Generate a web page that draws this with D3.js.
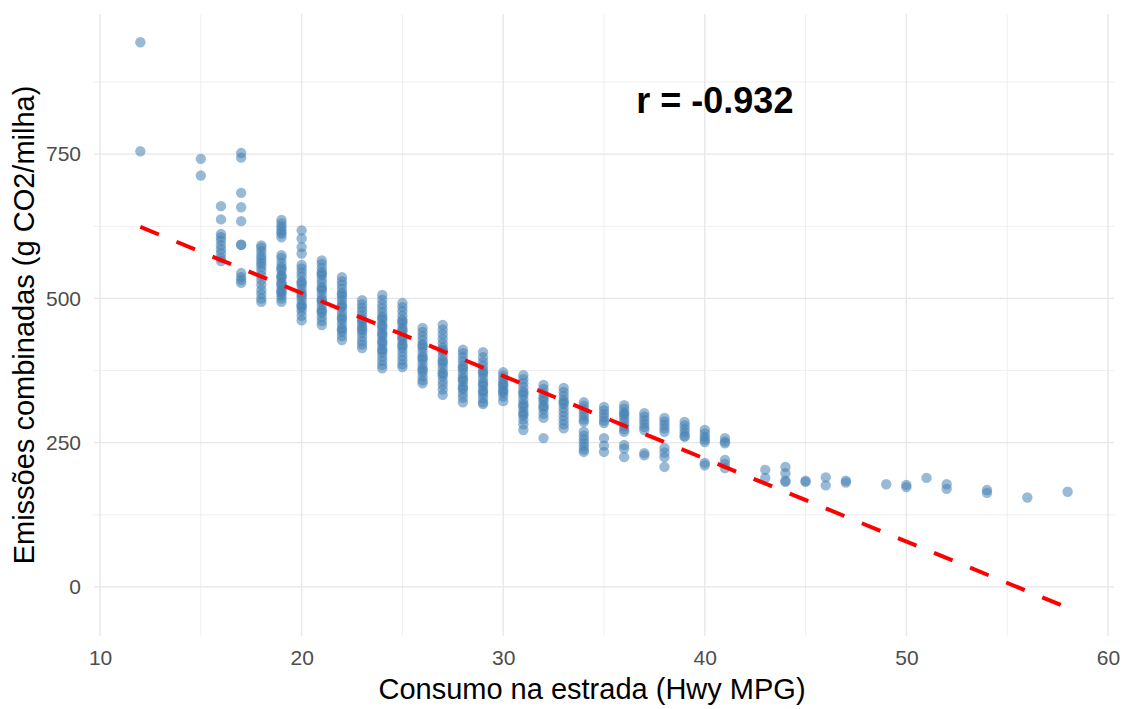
<!DOCTYPE html>
<html>
<head>
<meta charset="utf-8">
<script src="https://cdn.jsdelivr.net/npm/d3@7"></script>
<style>
  html, body { margin: 0; padding: 0; background: #ffffff; }
  svg { display: block; font-family: "Liberation Sans", Arial, sans-serif; }
</style>
</head>
<body>
<svg id="chart" width="1123" height="709"></svg>
<script>
// Highway fuel economy (MPG) levels present in the data
const hwyMpg = [12, 15, 16, 17, 18, 19, 20, 21, 22, 23, 24, 25, 26, 27, 28, 29, 30,
  31, 32, 33, 34, 35, 36, 37, 38, 39, 40, 41, 43, 44, 45, 46, 47, 49, 50, 51, 52, 54, 56, 58];

// Combined CO2 emissions (g/mile) observed at each MPG level
const emissionsByMpg = [
  [944, 755],
  [742, 713],
  [660, 637, 612, 606, 600, 592, 585, 578, 570, 565],
  [752, 744, 683, 658, 634, 593, 593, 544, 537, 532, 527],
  [592, 588, 582, 575, 570, 565, 560, 555, 548, 540, 532, 524, 515, 508, 500, 494],
  [636, 630, 625, 620, 615, 612, 606, 575, 570, 562, 555, 548, 540, 535, 528, 522, 515, 510, 505, 500, 494,
   552, 538, 525, 512],
  [618, 604, 589, 578, 558, 552, 545, 538, 530, 523, 516, 510, 503, 497, 490, 484, 478, 470, 462,
   527, 506, 487],
  [566, 560, 553, 546, 540, 533, 527, 520, 514, 507, 500, 494, 488, 481, 475, 468, 461, 454,
   543, 517, 497, 478],
  [537, 530, 524, 517, 510, 503, 497, 490, 484, 477, 470, 463, 456, 449, 442, 435, 428,
   507, 487, 466, 446],
  [497, 490, 484, 478, 471, 465, 458, 452, 445, 440, 433, 426, 420, 414, 462, 448],
  [506, 498, 490, 483, 476, 469, 462, 455, 448, 441, 434, 427, 420, 413, 406, 399, 392, 385, 379,
   466, 452, 438, 424, 410],
  [492, 485, 478, 470, 463, 456, 449, 442, 435, 428, 421, 414, 407, 400, 393, 386, 381,
   460, 445, 432, 418],
  [449, 442, 435, 428, 421, 414, 407, 400, 393, 386, 379, 372, 365, 358, 353, 418, 397, 376],
  [454, 446, 438, 430, 422, 415, 408, 400, 393, 386, 379, 372, 365, 357, 350, 342, 333,
   411, 390, 369],
  [411, 405, 398, 391, 384, 377, 370, 363, 356, 349, 342, 335, 328, 320, 380, 360, 345],
  [407, 398, 390, 383, 376, 369, 362, 355, 348, 341, 334, 327, 320, 317, 372, 352, 338],
  [372, 366, 360, 354, 348, 342, 336, 330, 322, 351, 339],
  [367, 360, 353, 346, 339, 332, 325, 318, 311, 304, 297, 290, 282, 272, 336, 315, 300],
  [350, 343, 336, 329, 322, 315, 308, 300, 293, 258, 326, 312],
  [345, 338, 331, 324, 317, 310, 303, 296, 289, 282, 275, 320],
  [320, 314, 308, 302, 296, 290, 286, 269, 262, 256, 250, 244, 238, 234],
  [312, 306, 300, 294, 288, 284, 258, 245, 234],
  [315, 309, 303, 297, 291, 285, 279, 273, 269, 246, 240, 225, 300],
  [301, 295, 289, 283, 277, 272, 232, 228],
  [293, 287, 281, 275, 269, 241, 233, 225, 208],
  [286, 280, 274, 268, 262, 260],
  [272, 266, 260, 255, 251, 215, 211],
  [258, 252, 249, 220, 213, 206],
  [203, 189],
  [208, 197, 184, 182],
  [184, 182],
  [190, 176],
  [184, 181],
  [178],
  [177, 173],
  [189],
  [178, 170],
  [168, 163],
  [155],
  [165]
];

// Least-squares fit line, evaluated at the ends of the MPG range
const fitMpg = [12, 58];
const fitEmissions = [624, -36];

// Correlation label and its anchor in data units
const corrLabel = "r = -0.932";
const corrAnchor = [40.5, 843];

// Axis ticks
const xTicks = [10, 20, 30, 40, 50, 60];
const xMinorTicks = [15, 25, 35, 45, 55];
const yTicks = [0, 250, 500, 750];
const yMinorTicks = [125, 375, 625, 875];

const xTitle = "Consumo na estrada (Hwy MPG)";
const yTitle = "Emissões combinadas (g CO2/milha)";

// ---- layout ----
const svg = d3.select("#chart");
const panel = { left: 94, right: 1114, top: 14, bottom: 636 };

const points = [];
hwyMpg.forEach((m, i) => emissionsByMpg[i].forEach(v => points.push({ m, v })));

const xExtent = d3.extent(points, d => d.m);
const yExtent = [d3.min([d3.min(points, d => d.v), d3.min(fitEmissions)]),
                 d3.max([d3.max(points, d => d.v), d3.max(fitEmissions)])];
const xPad = (xExtent[1] - xExtent[0]) * 0.05;
const yPad = (yExtent[1] - yExtent[0]) * 0.05;

const x = d3.scaleLinear()
  .domain([xExtent[0] - xPad, xExtent[1] + xPad])
  .range([panel.left, panel.right]);
const y = d3.scaleLinear()
  .domain([yExtent[0] - yPad, yExtent[1] + yPad])
  .range([panel.bottom, panel.top]);

// ---- grid ----
const grid = svg.append("g");
grid.selectAll(".vminor").data(xMinorTicks).join("line")
  .attr("x1", d => x(d)).attr("x2", d => x(d))
  .attr("y1", panel.top).attr("y2", panel.bottom)
  .attr("stroke", "#efefef").attr("stroke-width", 1);
grid.selectAll(".hminor").data(yMinorTicks).join("line")
  .attr("y1", d => y(d)).attr("y2", d => y(d))
  .attr("x1", panel.left).attr("x2", panel.right)
  .attr("stroke", "#efefef").attr("stroke-width", 1);
grid.selectAll(".vmajor").data(xTicks).join("line")
  .attr("x1", d => x(d)).attr("x2", d => x(d))
  .attr("y1", panel.top).attr("y2", panel.bottom)
  .attr("stroke", "#e6e6e6").attr("stroke-width", 1.3);
grid.selectAll(".hmajor").data(yTicks).join("line")
  .attr("y1", d => y(d)).attr("y2", d => y(d))
  .attr("x1", panel.left).attr("x2", panel.right)
  .attr("stroke", "#e6e6e6").attr("stroke-width", 1.3);

// ---- axes (labels only, theme without axis lines) ----
const xAxis = svg.append("g")
  .attr("transform", `translate(0,${panel.bottom})`)
  .call(d3.axisBottom(x).tickValues(xTicks).tickSize(0).tickPadding(14).tickFormat(d3.format("d")));
xAxis.select(".domain").remove();
xAxis.selectAll("text").attr("font-size", 21).attr("fill", "#4d4d4d")
  .attr("font-family", "Liberation Sans, Arial, sans-serif");

const yAxis = svg.append("g")
  .attr("transform", `translate(${panel.left},0)`)
  .call(d3.axisLeft(y).tickValues(yTicks).tickSize(0).tickPadding(13).tickFormat(d3.format("d")));
yAxis.select(".domain").remove();
yAxis.selectAll("text").attr("font-size", 21).attr("fill", "#4d4d4d")
  .attr("font-family", "Liberation Sans, Arial, sans-serif");

// ---- points ----
svg.append("g").selectAll("circle").data(points).join("circle")
  .attr("cx", d => x(d.m))
  .attr("cy", d => y(d.v))
  .attr("r", 5.2)
  .attr("fill", "steelblue")
  .attr("fill-opacity", 0.55);

// ---- fit line ----
const fitData = fitMpg.map((m, i) => [m, fitEmissions[i]]);
svg.append("path")
  .datum(fitData)
  .attr("d", d3.line().x(d => x(d[0])).y(d => y(d[1])))
  .attr("fill", "none")
  .attr("stroke", "#ff0000")
  .attr("stroke-width", 4)
  .attr("stroke-dasharray", "20,19");

// ---- correlation label ----
svg.append("text")
  .attr("x", x(corrAnchor[0]))
  .attr("y", y(corrAnchor[1]))
  .attr("text-anchor", "middle")
  .attr("dominant-baseline", "central")
  .attr("font-size", 36)
  .attr("font-weight", "bold")
  .attr("fill", "#000")
  .text(corrLabel);

// ---- axis titles ----
svg.append("text")
  .attr("x", 592)
  .attr("y", 699)
  .attr("text-anchor", "middle")
  .attr("font-size", 29)
  .attr("fill", "#000")
  .text(xTitle);

svg.append("text")
  .attr("transform", `translate(34,${(panel.top + panel.bottom) / 2}) rotate(-90)`)
  .attr("text-anchor", "middle")
  .attr("font-size", 29)
  .attr("fill", "#000")
  .text(yTitle);
</script>
</body>
</html>
